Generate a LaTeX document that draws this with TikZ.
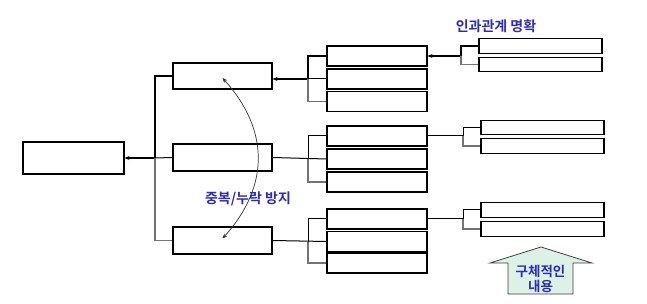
\documentclass[tikz,border=0pt]{standalone}
\usepackage{fontspec}
\newfontfamily\krfont{Noto Sans CJK KR}[BoldFont={Noto Sans CJK KR Bold}]
\usepackage{xcolor}
\usetikzlibrary{arrows.meta, positioning, calc}
\definecolor{noteblue}{RGB}{45,45,180}
\definecolor{mint}{RGB}{221,241,230}
\begin{document}
\begin{tikzpicture}[x=1pt, y=-1pt, >={Stealth[length=5pt, width=4pt]},
    box/.style={draw, line width=1.1pt, fill=white, inner sep=0pt},
    mainline/.style={line width=2.2pt},
    subline/.style={line width=1pt},
    greyline/.style={line width=1.8pt, draw=black!55},
    note/.style={font=\krfont\bfseries\fontsize{14}{15}\selectfont, text=noteblue, align=center}]
    \useasboundingbox (0,0) rectangle (647,304);
    % result and the three causes
    \node[box, minimum width=101pt, minimum height=32pt] (root) at (73.5,158) {};
    \node[box, minimum width=99pt, minimum height=26pt] (ca) at (222.5,76) {};
    \node[box, minimum width=99pt, minimum height=27pt] (cb) at (222.5,157.5) {};
    \node[box, minimum width=99pt, minimum height=27pt] (cc) at (222.5,240.5) {};
    % second level
    \foreach \n/\y in {a1/56, a2/79, a3/101.5, b1/136, b2/159, b3/182, c1/219, c2/241.5, c3/263}
        \node[box, minimum width=100pt, minimum height=20pt] (s\n) at (377,\y) {};
    % third level
    \foreach \n/\x/\y in {a1/540.5/46, a2/540.5/64.5, b1/542.5/127.5, b2/542.5/146, c1/542.5/210, c2/542.5/229}
        \node[box, minimum width=123pt, minimum height=14.5pt] (t\n) at (\x,\y) {};
    % joints
    \coordinate (j1) at (155,158);
    \coordinate (j2) at (308,79);
    \coordinate (j3) at (308,159);
    \coordinate (j4) at (308,241.5);
    \coordinate (j5) at (461,56);
    \coordinate (j6) at (463,136);
    \coordinate (j7) at (463,219);
    % causes -> result
    \draw[mainline] (ca.west) -| (j1);
    \draw[mainline, ->] (j1) -- (root.east);
    \draw[subline] (cb.west) -- (j1);
    \draw[greyline] (j1) |- (cc.west);
    % top branch
    \draw[mainline] (sa1.west) -| (j2);
    \draw[mainline, ->] (j2) -- (ca.east |- j2);
    \draw[subline] (sa2.west) -- (j2);
    \draw[greyline] (j2) |- (sa3.west);
    \draw[mainline] (ta1.west) -| (j5);
    \draw[mainline, ->] (j5) -- (sa1.east);
    \draw[greyline] (j5) |- (ta2.west);
    % middle branch
    \draw[subline] (cb.east) -- (sb2.west);
    \draw[subline] (sb1.west) -| (j3);
    \draw[greyline] (j3) |- (sb3.west);
    \draw[subline] (sb1.east) -- (j6);
    \draw[subline] (tb1.west) -| (j6);
    \draw[greyline] (j6) |- (tb2.west);
    % bottom branch
    \draw[subline] (cc.east) -- (sc2.west);
    \draw[subline] (sc1.west) -| (j4);
    \draw[greyline] (j4) |- (sc3.west);
    \draw[subline] (sc1.east) -- (j7);
    \draw[subline] (tc1.west) -| (j7);
    \draw[greyline] (j7) |- (tc2.west);
    % overlap check
    \draw[<->, line width=0.7pt, black!80] ([yshift=-2pt]ca.center) .. controls +(47,52) and +(47,-52) .. ([yshift=2pt]cc.center);
    \node[note] (overlap) at (248,199) {중복/누락 방지};
    \node[note] (cause) at (496,26) {인과관계 명확};
    % detail arrow
    \draw[line width=0.8pt, draw=black!75, fill=mint] (541,247) -- (592,263) -- (573,263) -- (573,294)
        -- (508,294) -- (508,263) -- (490,263) -- cycle;
    \node[note, font=\krfont\bfseries\fontsize{13.5}{15}\selectfont] (detail) at (540.5,278.5) {구체적인\\내용};
\end{tikzpicture}
\end{document}
